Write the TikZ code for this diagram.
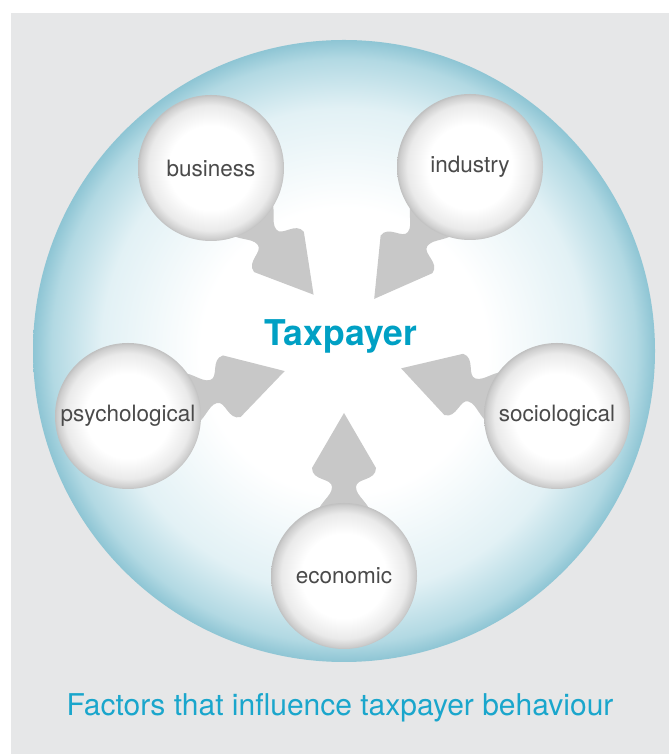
\documentclass[tikz,border=0pt]{standalone}
\usepackage{fontspec}
\setmainfont{TeX Gyre Heros}
\definecolor{panelgray}{HTML}{E6E7E8}
\definecolor{arrowgray}{HTML}{C8C8C8}
\definecolor{labelgray}{HTML}{4A4A4A}
\definecolor{teal}{HTML}{00A0C4}
\definecolor{captionteal}{HTML}{1AA6CC}
\definecolor{bigmid}{HTML}{E2F1F5}
\definecolor{bigouter}{HTML}{B2D9E3}
\definecolor{bigedge}{HTML}{8EC5D4}
\definecolor{ballmid}{HTML}{EAEAEA}
\definecolor{ballouter}{HTML}{CDCDCD}
\definecolor{balledge}{HTML}{C0C0C0}
\pgfdeclareradialshading{bigball}{\pgfpoint{0bp}{0bp}}{color(0bp)=(white); color(11.5bp)=(white); color(19.5bp)=(bigmid); color(23.5bp)=(bigouter); color(25bp)=(bigedge); color(50bp)=(bigedge)}
\pgfdeclareradialshading{smallball}{\pgfpoint{0bp}{0bp}}{color(0bp)=(white); color(14.5bp)=(white); color(21.5bp)=(ballmid); color(24.3bp)=(ballouter); color(25bp)=(balledge); color(50bp)=(balledge)}
\tikzset{
  ball/.style={circle, minimum size=146pt, inner sep=0pt, shading=smallball, shade, text=labelgray, font=\fontsize{22.5}{27}\selectfont},
  arrowshape/.style={fill=arrowgray, draw=none}
}
\begin{document}
\begin{tikzpicture}[x=1pt,y=1pt]
\useasboundingbox (0,0) rectangle (669,754);
\fill[white] (0,0) rectangle (669,754);
\fill[panelgray] (11,0) rectangle (669,741);
\coordinate (ctr) at (344,403);
\shade[shading=bigball] (ctr) circle[radius=311];
\coordinate (cb) at (211,586);
\coordinate (ci) at (470,587);
\coordinate (cp) at (128,338);
\coordinate (cs) at (557,338);
\coordinate (ce) at (344,178);
\foreach \c/\a in {cb/-51, ci/-126, cp/16, cs/163, ce/90}{
  \path[arrowshape, shift={(\c)}, rotate=\a]
    (55,-30) .. controls (74,-26) and (79,-12) .. (89,-12)
    .. controls (98,-12) and (95,-32) .. (108,-32)
    -- (163,0) -- (108,32)
    .. controls (95,32) and (98,12) .. (89,12)
    .. controls (79,12) and (74,26) .. (55,30) -- cycle;
}
\node[ball] (business) at (cb) {business};
\node[ball] (industry) at (ci) {industry};
\node[ball] (psychological) at (cp) {psychological};
\node[ball] (sociological) at (cs) {sociological};
\node[ball] (economic) at (ce) {economic};
\node[text=teal, font=\fontsize{35.5}{40}\selectfont\bfseries] (taxpayer) at (341,418) {Taxpayer};
\node[text=captionteal, font=\fontsize{30}{34}\selectfont] (caption) at (340,46) {Factors that influence taxpayer behaviour};
\end{tikzpicture}
\end{document}
